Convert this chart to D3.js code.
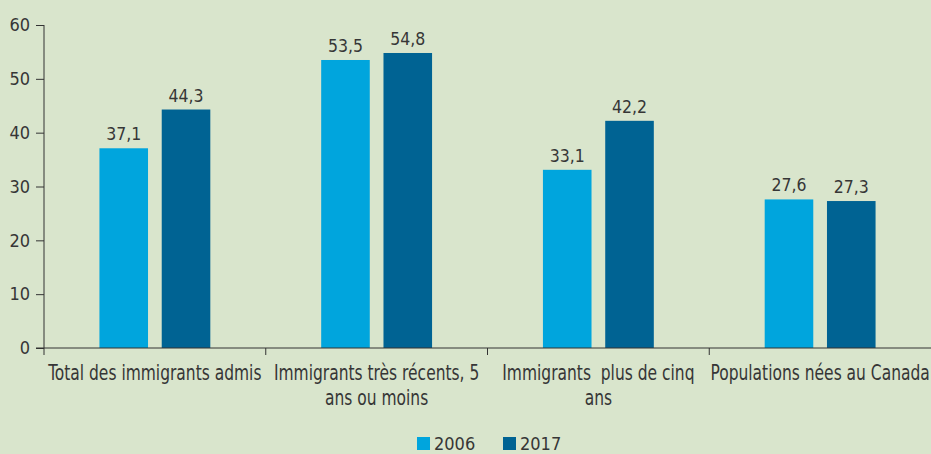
<!DOCTYPE html>
<html>
<head>
<meta charset="utf-8">
<style>
  body { margin: 0; background: #d9e5cc; }
  svg { display: block; }
  text {
    font-family: "Liberation Sans Narrow", "DejaVu Sans Condensed", "Roboto Condensed", sans-serif;
    font-stretch: condensed;
    fill: #363636;
    white-space: pre;
  }
</style>
</head>
<body>
<div id="chart"></div>
<script src="https://d3js.org/d3.v7.min.js"></script>
<script>
  // data
  const categories = [
    ["Total des immigrants admis"],
    ["Immigrants très récents, 5", "ans ou moins"],
    ["Immigrants  plus de cinq", "ans"],
    ["Populations nées au Canada"]
  ];
  const seriesNames = ["2006", "2017"];
  const values2006 = [37.1, 53.5, 33.1, 27.6];
  const values2017 = [44.3, 54.8, 42.2, 27.3];
  const yTicks = [0, 10, 20, 30, 40, 50, 60];
  const colors = ["#00a5dd", "#006393"];

  const width = 931, height = 454;
  const margin = { top: 25, right: 0, bottom: 106, left: 44 };
  const fmt = v => d3.format(".1f")(v).replace(".", ",");

  const svg = d3.select("#chart").append("svg")
      .attr("width", width)
      .attr("height", height);

  svg.append("rect").attr("width", width).attr("height", height).attr("fill", "#d9e5cc");

  const x0 = d3.scaleBand()
      .domain(d3.range(categories.length))
      .range([margin.left, width - margin.right])
      .padding(0);

  const x1 = d3.scaleBand()
      .domain(seriesNames)
      .range([0, x0.bandwidth()])
      .paddingInner(0.22)
      .paddingOuter(0.89);

  const y = d3.scaleLinear()
      .domain([0, 60])
      .range([height - margin.bottom, margin.top]);

  const rows = categories.map((c, i) => ({ i, vals: [values2006[i], values2017[i]] }));

  const groups = svg.selectAll("g.grp")
      .data(rows)
      .join("g")
      .attr("class", "grp")
      .attr("transform", d => `translate(${x0(d.i)},0)`);

  const bars = groups.selectAll("g.bar")
      .data(d => d.vals.map((v, k) => ({ v, k })))
      .join("g").attr("class", "bar");

  bars.append("rect")
      .attr("x", d => x1(seriesNames[d.k]))
      .attr("width", x1.bandwidth())
      .attr("y", d => y(d.v))
      .attr("height", d => y(0) - y(d.v))
      .attr("fill", d => colors[d.k]);

  bars.append("text")
      .attr("x", d => x1(seriesNames[d.k]) + x1.bandwidth() / 2)
      .attr("y", d => y(d.v) - 8)
      .attr("text-anchor", "middle")
      .style("font-size", "17.5px")
      .text(d => fmt(d.v));

  // y axis
  const yAxis = svg.append("g")
      .attr("transform", `translate(${margin.left},0)`)
      .call(d3.axisLeft(y).tickValues(yTicks).tickSize(8).tickPadding(6));
  yAxis.select(".domain").attr("stroke", "#333").attr("d", `M0,${y(60)}V${y(0) + 7}`);
  yAxis.selectAll(".tick line").attr("stroke", "#333");
  yAxis.selectAll(".tick text").style("font-size", "18px").attr("fill", "#363636");

  // x axis
  const xAxis = svg.append("g")
      .attr("transform", `translate(0,${y(0)})`);
  xAxis.append("line")
      .attr("x1", margin.left - 8).attr("x2", width)
      .attr("stroke", "#333");
  xAxis.selectAll("line.tk")
      .data(d3.range(1, categories.length))
      .join("line").attr("class", "tk")
      .attr("x1", d => x0(d)).attr("x2", d => x0(d))
      .attr("y1", 0).attr("y2", 7)
      .attr("stroke", "#333");

  // category labels: taller, narrower face like the original condensed font
  const lbl = xAxis.selectAll("g.cat")
      .data(categories)
      .join("g").attr("class", "cat")
      .attr("transform", (d, i) => `translate(${x0(i) + x0.bandwidth() / 2},0) scale(0.84,1)`)
      .append("text")
      .attr("text-anchor", "middle")
      .style("font-size", "20.5px");
  lbl.selectAll("tspan")
      .data(d => d)
      .join("tspan")
      .attr("x", 0)
      .attr("y", (d, j) => 32 + j * 25)
      .text(d => d);

  // legend
  const legend = svg.append("g");
  const lx = [417, 503];
  seriesNames.forEach((s, k) => {
    legend.append("rect")
        .attr("x", lx[k]).attr("y", 437)
        .attr("width", 13).attr("height", 13)
        .attr("fill", colors[k]);
    legend.append("text")
        .attr("x", lx[k] + 17).attr("y", 450)
        .style("font-size", "18px")
        .text(s);
  });
</script>
</body>
</html>
